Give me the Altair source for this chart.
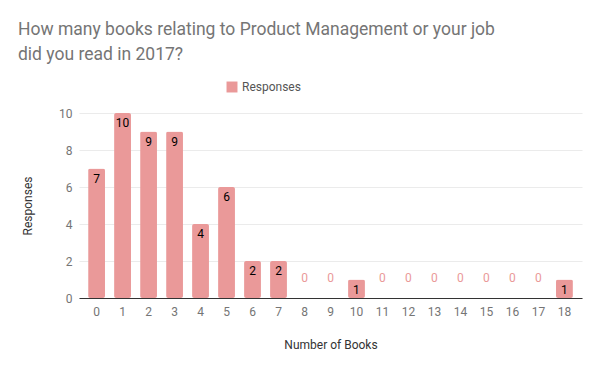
import altair as alt
import pandas as pd

books = [str(i) for i in range(0, 19)]
responses = [7, 10, 9, 9, 4, 6, 2, 2, 0, 0, 1, 0, 0, 0, 0, 0, 0, 0, 1]
y_ticks = [0, 2, 4, 6, 8, 10]

df = pd.DataFrame({"Number of Books": books, "Responses": responses, "series": ["Responses"] * len(books)})

FONT = "Roboto"
BAR = "#ea9999"

x = alt.X("Number of Books:N", sort=books,
          scale=alt.Scale(paddingInner=0.35, paddingOuter=0.35),
          axis=alt.Axis(title="Number of Books", labelAngle=0, ticks=False,
                        domainColor="#333333", labelColor="#757575", labelFontSize=12,
                        labelPadding=8, titleColor="#333333", titleFontSize=12,
                        titleFontWeight="normal", titlePadding=22, labelFont=FONT, titleFont=FONT))

y = alt.Y("Responses:Q", scale=alt.Scale(domain=[0, 10], nice=False),
          axis=alt.Axis(title="Responses", values=y_ticks, tickCount=6, domain=False, ticks=False,
                        labelOverlap=False, labelFlush=False,
                        gridColor="#ebebeb", labelColor="#757575", labelFontSize=12, labelPadding=7,
                        titleColor="#333333", titleFontSize=12, titleFontWeight="normal",
                        titlePadding=24, labelFont=FONT, titleFont=FONT))

bars = alt.Chart(df).mark_bar(cornerRadius=2).encode(
    x=x,
    y=y,
    color=alt.Color("series:N", scale=alt.Scale(range=[BAR]),
                    legend=alt.Legend(title=None, orient="none", legendX=147, legendY=-32,
                                      symbolType="square", symbolSize=120, symbolStrokeWidth=0,
                                      labelFontSize=12, labelColor="#555555", labelFont=FONT)),
)

inside = alt.Chart(df).transform_filter("datum.Responses > 0").mark_text(
    baseline="top", dy=5, fontSize=12, color="#000000", font=FONT
).encode(x=x, y=y, text="Responses:Q")

zeros = alt.Chart(df).transform_filter("datum.Responses == 0").mark_text(
    baseline="bottom", dy=-13, fontSize=12, color=BAR, font=FONT
).encode(x=x, y=y, text="Responses:Q")

chart = alt.layer(bars, inside, zeros).properties(
    width=503, height=185,
    autosize=alt.AutoSizeParams(type="none"),
    padding={"left": 71, "top": 105, "right": 10, "bottom": 70},
    title=alt.TitleParams(
        ["How many books relating to Product Management or your job", "did you read in 2017?"],
        anchor="start", frame="group", dx=-61, fontSize=17.5, font=FONT, fontWeight="normal",
        color="#757575", lineHeight=25, offset=18),
).configure_view(stroke=None)

chart.save("out.html", embed_options={"renderer": "svg", "actions": False})
